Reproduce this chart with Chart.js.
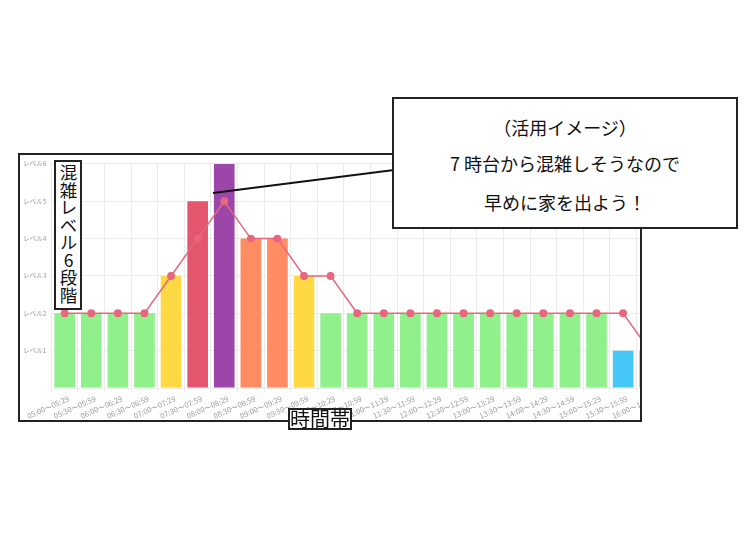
<!DOCTYPE html>
<html lang="ja">
<head>
<meta charset="utf-8">
<script src="https://cdn.jsdelivr.net/npm/chart.js@4.4.1/dist/chart.umd.min.js"></script>
<style>
  body { margin: 0; width: 750px; height: 536px; background: #fff; position: relative; overflow: hidden;
         font-family: "Noto Sans CJK JP", sans-serif; color: #111; }
  #frame { position: absolute; left: 18px; top: 153px; width: 620px; height: 265px;
           border: 2px solid #222; overflow: hidden; background: #fff; }
  #frame canvas { position: absolute; left: 0; top: 0; }
  .tag { position: absolute; background: #fff; border: 2px solid #222; }
  #yTag { left: 54px; top: 160px; width: 24px; height: 144px; writing-mode: vertical-rl; text-orientation: upright;
          font-size: 17.5px; line-height: 24px; padding-top: 2px; box-sizing: content-box; }
  #xTag { left: 288px; top: 408px; width: 60px; height: 18px; font-size: 20px; line-height: 18px; text-align: center; }
  #note { left: 392px; top: 97px; width: 342px; height: 128px; font-size: 18px; text-align: center; }
  #note div { position: absolute; left: 0; right: 0; line-height: 24px; }
  #pointer { position: absolute; left: 0; top: 0; }
</style>
</head>
<body>
<div id="frame"><canvas id="levelChart" width="650" height="265"></canvas></div>
<svg id="pointer" width="750" height="536"><line x1="213" y1="193" x2="394" y2="170" stroke="#111" stroke-width="2"/></svg>
<div class="tag" id="yTag">混雑レベル6段階</div>
<div class="tag" id="xTag">時間帯</div>
<div class="tag" id="note">
  <div style="top:16px">（活用イメージ）</div>
  <div style="top:52px">7 時台から混雑しそうなので</div>
  <div style="top:91px">早めに家を出よう！</div>
</div>
<script>
const timeSlots = ['05:00～05:29', '05:30～05:59', '06:00～06:29', '06:30～06:59', '07:00～07:29', '07:30～07:59',
    '08:00～08:29', '08:30～08:59', '09:00～09:29', '09:30～09:59', '10:00～10:29', '10:30～10:59',
    '11:00～11:29', '11:30～11:59', '12:00～12:29', '12:30～12:59', '13:00～13:29', '13:30～13:59',
    '14:00～14:29', '14:30～14:59', '15:00～15:29', '15:30～15:59', '16:00～16:29'];
const barLevels = [2, 2, 2, 2, 3, 5, 6, 4, 4, 3, 2, 2, 2, 2, 2, 2, 2, 2, 2, 2, 2, 1, 1];
const lineLevels = [2, 2, 2, 2, 3, 4, 5, 4, 4, 3, 3, 2, 2, 2, 2, 2, 2, 2, 2, 2, 2, 2, 1];
const levelLabels = ['', 'レベル1', 'レベル2', 'レベル3', 'レベル4', 'レベル5', 'レベル6'];
const levelColors = ['#ffffff', '#45c8f5', '#90f08c', '#ffd944', '#ff8c62', '#e3566e', '#9b46a8'];

Chart.defaults.font.family = "'Noto Sans CJK JP', sans-serif";

const ctx = document.getElementById('levelChart').getContext('2d');
const levelChart = new Chart(ctx, {
    type: 'bar',
    data: {
        labels: timeSlots,
        datasets: [{
            type: 'line',
            data: lineLevels,
            borderColor: '#e8667e',
            backgroundColor: '#e8667e',
            borderWidth: 1.5,
            pointRadius: 3.2,
            tension: 0,
            order: 0
        }, {
            data: barLevels,
            backgroundColor: barLevels.map(v => levelColors[v]),
            barPercentage: 0.97,
            categoryPercentage: 0.8,
            order: 1
        }]
    },
    options: {
        responsive: false,
        animation: false,
        layout: {padding: {top: 5, right: 7, left: 0, bottom: 0}},
        plugins: {legend: {display: false}, tooltip: {enabled: false}},
        scales: {
            x: {
                grid: {color: '#ebebeb', offset: true, tickLength: 4},
                border: {color: '#ebebeb'},
                ticks: {color: '#999', font: {size: 7.5}, padding: 2, labelOffset: 4,
                        minRotation: 24, maxRotation: 24, autoSkip: false},
                afterFit: (s) => { s.height = 32; }
            },
            y: {
                min: 0,
                max: 6,
                grid: {color: '#ebebeb', drawTicks: false},
                border: {color: '#ebebeb'},
                ticks: {stepSize: 1, color: '#999', font: {size: 6.5}, padding: 5, callback: (v) => levelLabels[v]},
                afterFit: (s) => { s.width = 31.4; }
            }
        }
    }
});
</script>
</body>
</html>
